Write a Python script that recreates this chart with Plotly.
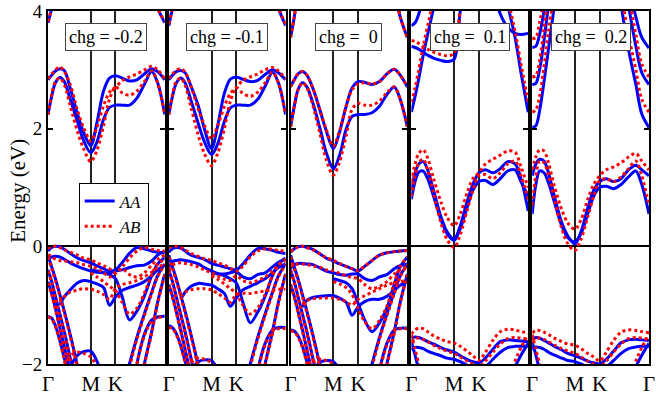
import plotly.graph_objects as go

N = None
# k-path positions (Gamma-M-K-Gamma, units of 2pi/a)
K = [0, 0.05, 0.10, 0.16, 0.22, 0.30, 0.40, 0.48, 0.577, 0.66,
     0.75, 0.83, 0.911, 1.00, 1.10, 1.20, 1.30, 1.40, 1.48, 1.577]
K_M, K_K, K_END = 0.5774, 0.9107, 1.5774
TICK_LABELS = ["Γ", "M", "K", "Γ"]
TITLES = ["chg = -0.2", "chg = -0.1", "chg =\u00a0\u00a00", "chg =\u00a0\u00a00.1", "chg =\u00a0\u00a00.2"]

# ---------- chg = -0.2 ----------
P1_AA = [
    [2.83, 2.91, 2.98, 3.02, 2.99, 2.69, 2.24, 1.94, 1.71, 2.10, 2.64, 2.86, 2.90, 2.86, 2.81, 2.83, 2.93, 3.02, 2.97, 2.83],
    [2.24, 2.55, 2.78, 2.87, 2.80, 2.50, 2.11, 1.80, 1.59, 1.77, 2.16, 2.36, 2.40, 2.40, 2.40, 2.52, 2.75, 2.97, 2.78, 2.24],
    [3.80, 4.05, 4.40, N, N, N, N, N, N, N, N, N, N, N, N, N, N, N, N, N],
    [N, N, N, N, N, N, N, N, N, N, N, N, N, N, N, N, N, 4.40, 4.05, 3.80],
    [-0.08, -0.02, 0.00, -0.01, -0.05, -0.12, -0.20, -0.24, -0.28, -0.33, -0.38, -0.42, -0.40, -0.28, -0.12, -0.02, -0.04, -0.08, -0.10, -0.11],
    [-0.20, -0.18, -0.17, -0.18, -0.22, -0.28, -0.34, -0.38, -0.42, -0.44, -0.45, -0.45, -0.42, -0.40, -0.36, -0.33, -0.32, -0.25, -0.15, -0.08],
    [N, N, N, -1.00, -0.86, -0.74, -0.62, -0.58, -0.60, -0.64, -0.70, -1.00, -0.86, -0.75, -0.70, -0.66, -0.60, -0.50, -0.40, -0.32],
    [N, N, N, N, N, N, N, N, -0.40, -0.42, -0.45, -0.48, -0.55, -0.85, -1.25, -1.10, -0.85, -0.50, -0.30, -0.19],
    [-0.15, -0.35, -0.55, -0.82, -1.10, -1.50, -2.05, -2.60, N, N, N, N, N, N, N, N, N, N, N, N],
    [-0.40, -0.60, -0.85, -1.15, -1.45, -1.90, -2.50, N, N, N, N, N, N, N, N, N, N, N, N, N],
    [-0.60, -0.80, -1.05, -1.38, -1.70, -2.15, N, N, N, N, N, N, N, N, N, N, N, N, N, N],
    [-1.19, -1.22, -1.35, -1.60, -1.90, -2.30, N, N, N, N, N, N, N, N, N, N, N, N, N, N],
    [N, N, N, N, N, N, N, N, N, N, N, N, N, -2.50, -2.00, -1.55, -1.15, -0.78, -0.50, -0.30],
    [N, N, N, N, N, N, N, N, N, N, N, N, N, N, N, -2.60, -2.00, -1.45, -0.95, -0.47],
    [N, N, N, N, N, N, N, N, N, N, N, N, N, N, N, -2.00, -1.50, -1.25, -1.20, -1.19],
    [N, N, N, N, N, -2.05, -1.85, -1.79, -1.78, -1.95, -2.30, N, N, N, N, N, N, N, N, N],
]
P1_AB = [
    [2.85, 2.93, 3.00, 3.05, 2.97, 2.75, 2.30, 2.02, 1.79, 2.02, 2.39, 2.62, 2.71, 2.81, 2.88, 2.93, 3.00, 3.06, 3.00, 2.85],
    [2.24, 2.58, 2.80, 2.86, 2.75, 2.39, 1.94, 1.66, 1.44, 1.63, 2.05, 2.50, 2.71, 2.61, 2.57, 2.64, 2.80, 2.98, 2.78, 2.24],
    [3.82, 4.05, 4.40, N, N, N, N, N, N, N, N, N, N, N, N, N, N, N, N, N],
    [N, N, N, N, N, N, N, N, N, N, N, N, N, N, N, N, N, 4.40, 4.05, 3.82],
    [-0.04, 0.00, 0.00, -0.02, -0.06, -0.10, -0.15, -0.20, -0.23, -0.28, -0.33, -0.38, -0.45, -0.35, -0.20, -0.08, -0.02, -0.05, -0.07, -0.08],
    [-0.14, -0.18, -0.22, -0.24, -0.25, -0.26, -0.28, -0.31, -0.34, -0.38, -0.45, -0.52, -0.46, -0.38, -0.48, -0.52, -0.45, -0.32, -0.22, -0.15],
    [N, N, N, -0.95, -0.85, -0.78, -0.74, -0.72, -0.73, -0.76, -0.82, -0.90, -0.72, -0.65, -0.62, -0.58, -0.52, -0.44, -0.36, -0.30],
    [N, N, N, N, N, N, N, N, -0.45, -0.52, -0.60, -0.68, -0.75, -0.95, -1.15, -1.05, -0.80, -0.48, -0.30, -0.22],
    [-0.18, -0.38, -0.58, -0.85, -1.13, -1.53, -2.08, -2.60, N, N, N, N, N, N, N, N, N, N, N, N],
    [-0.42, -0.62, -0.88, -1.18, -1.48, -1.93, -2.50, N, N, N, N, N, N, N, N, N, N, N, N, N],
    [-0.62, -0.82, -1.07, -1.40, -1.72, -2.18, N, N, N, N, N, N, N, N, N, N, N, N, N, N],
    [-1.20, -1.24, -1.36, -1.62, -1.92, -2.30, N, N, N, N, N, N, N, N, N, N, N, N, N, N],
    [N, N, N, N, N, N, N, N, N, N, N, N, N, -2.55, -2.05, -1.58, -1.18, -0.80, -0.52, -0.31],
    [N, N, N, N, N, N, N, N, N, N, N, N, N, N, N, -2.62, -2.02, -1.48, -0.97, -0.48],
    [N, N, N, N, N, N, N, N, N, N, N, N, N, N, N, -2.00, -1.52, -1.27, -1.21, -1.20],
    [N, N, N, N, -2.00, -1.86, -1.80, -1.82, -1.88, -2.05, -2.30, N, N, N, N, N, N, N, N, N],
]

# ---------- chg = -0.1 ----------
P2_AA = [
    [2.83, 2.91, 2.97, 2.99, 2.95, 2.72, 2.38, 2.00, 1.66, 2.05, 2.60, 2.84, 2.88, 2.84, 2.80, 2.82, 2.92, 3.00, 2.95, 2.83],
    [2.24, 2.55, 2.77, 2.86, 2.78, 2.48, 2.08, 1.78, 1.56, 1.74, 2.12, 2.35, 2.40, 2.40, 2.40, 2.50, 2.72, 2.96, 2.78, 2.24],
    [3.75, 4.05, 4.40, N, N, N, N, N, N, N, N, N, N, N, N, N, N, N, N, N],
    [N, N, N, N, N, N, N, N, N, N, N, N, N, N, N, N, N, 4.40, 4.05, 3.75],
    [-0.10, -0.04, -0.02, -0.03, -0.08, -0.15, -0.19, -0.22, -0.29, -0.32, -0.35, -0.38, -0.40, -0.30, -0.15, -0.04, -0.04, -0.07, -0.10, -0.12],
    [-0.35, -0.26, -0.24, -0.23, -0.24, -0.26, -0.30, -0.36, -0.42, -0.46, -0.47, -0.45, -0.43, -0.52, -0.55, -0.48, -0.45, -0.35, -0.27, -0.22],
    [N, N, N, -0.90, -0.78, -0.68, -0.63, -0.64, -0.66, -0.72, -0.80, -1.02, -0.88, -0.74, -0.68, -0.62, -0.55, -0.45, -0.36, -0.30],
    [N, N, N, N, N, N, N, N, -0.45, -0.47, -0.50, -0.55, -0.62, -0.95, -1.30, -1.12, -0.85, -0.50, -0.30, -0.20],
    [-0.15, -0.35, -0.55, -0.82, -1.10, -1.50, -2.05, -2.60, N, N, N, N, N, N, N, N, N, N, N, N],
    [-0.40, -0.60, -0.85, -1.15, -1.45, -1.90, -2.50, N, N, N, N, N, N, N, N, N, N, N, N, N],
    [-0.65, -0.85, -1.10, -1.42, -1.75, -2.20, N, N, N, N, N, N, N, N, N, N, N, N, N, N],
    [-1.35, -1.38, -1.48, -1.68, -1.95, -2.30, N, N, N, N, N, N, N, N, N, N, N, N, N, N],
    [N, N, N, N, N, N, N, N, N, N, N, N, N, -2.50, -2.00, -1.55, -1.15, -0.78, -0.50, -0.30],
    [N, N, N, N, N, N, N, N, N, N, N, N, N, N, N, -2.60, -2.00, -1.45, -0.95, -0.47],
    [N, N, N, N, N, N, N, N, N, N, N, N, N, N, N, -2.10, -1.65, -1.42, -1.38, -1.38],
    [N, N, N, N, N, -2.10, -1.96, -1.93, -1.94, -2.10, -2.40, N, N, N, N, N, N, N, N, N],
]
P2_AB = [
    [2.85, 2.93, 2.99, 3.02, 2.96, 2.72, 2.32, 2.06, 1.83, 2.05, 2.38, 2.60, 2.70, 2.82, 2.88, 2.93, 3.00, 3.04, 2.98, 2.85],
    [2.24, 2.58, 2.80, 2.86, 2.74, 2.36, 1.88, 1.58, 1.37, 1.58, 2.00, 2.46, 2.70, 2.60, 2.55, 2.62, 2.78, 2.96, 2.78, 2.24],
    [3.78, 4.05, 4.40, N, N, N, N, N, N, N, N, N, N, N, N, N, N, N, N, N],
    [N, N, N, N, N, N, N, N, N, N, N, N, N, N, N, N, N, 4.40, 4.05, 3.78],
    [-0.02, 0.00, 0.00, -0.02, -0.06, -0.12, -0.17, -0.21, -0.24, -0.28, -0.32, -0.37, -0.42, -0.34, -0.18, -0.08, -0.04, -0.05, -0.07, -0.08],
    [-0.40, -0.32, -0.29, -0.28, -0.29, -0.31, -0.35, -0.40, -0.45, -0.50, -0.56, -0.58, -0.50, -0.58, -0.62, -0.58, -0.52, -0.42, -0.32, -0.25],
    [N, N, N, -0.85, -0.78, -0.74, -0.72, -0.72, -0.74, -0.80, -0.88, -0.95, -0.82, -0.80, -0.80, -0.78, -0.76, -0.74, -0.73, -0.73],
    [N, N, N, N, N, N, N, N, -0.50, -0.56, -0.64, -0.72, -0.80, -1.00, -1.15, -1.05, -0.82, -0.50, -0.32, -0.22],
    [-0.18, -0.38, -0.58, -0.85, -1.13, -1.53, -2.08, -2.60, N, N, N, N, N, N, N, N, N, N, N, N],
    [-0.42, -0.62, -0.88, -1.18, -1.48, -1.93, -2.50, N, N, N, N, N, N, N, N, N, N, N, N, N],
    [-0.67, -0.87, -1.12, -1.44, -1.77, -2.22, N, N, N, N, N, N, N, N, N, N, N, N, N, N],
    [-1.38, -1.40, -1.50, -1.70, -1.97, -2.30, N, N, N, N, N, N, N, N, N, N, N, N, N, N],
    [N, N, N, N, N, N, N, N, N, N, N, N, N, -2.55, -2.05, -1.58, -1.18, -0.80, -0.52, -0.31],
    [N, N, N, N, N, N, N, N, N, N, N, N, N, N, N, -2.62, -2.02, -1.48, -0.97, -0.48],
    [N, N, N, N, N, N, N, N, N, N, N, N, N, N, N, -2.12, -1.68, -1.44, -1.40, -1.40],
    [N, N, N, N, -2.15, -1.98, -1.90, -1.92, -1.98, -2.15, -2.40, N, N, N, N, N, N, N, N, N],
]

# ---------- chg = 0 ----------
P3_AA = [
    [2.71, 2.83, 2.93, 2.97, 2.91, 2.69, 2.30, 1.97, 1.66, 1.94, 2.38, 2.69, 2.80, 2.79, 2.75, 2.80, 2.93, 3.01, 2.91, 2.71],
    [2.03, 2.38, 2.66, 2.78, 2.71, 2.44, 1.99, 1.60, 1.32, 1.54, 1.99, 2.21, 2.24, 2.24, 2.27, 2.38, 2.58, 2.71, 2.50, 2.03],
    [3.55, 3.90, 4.40, N, N, N, N, N, N, N, N, N, N, N, N, N, N, N, N, N],
    [N, N, N, N, N, N, N, N, N, N, N, N, N, N, N, N, N, 4.40, 3.90, 3.55],
    [-0.10, -0.04, -0.01, 0.00, -0.02, -0.05, -0.13, -0.20, -0.25, -0.30, -0.34, -0.38, -0.42, -0.34, -0.24, -0.15, -0.11, -0.09, -0.08, -0.07],
    [-0.38, -0.31, -0.29, -0.29, -0.30, -0.31, -0.37, -0.42, -0.45, -0.48, -0.49, -0.47, -0.47, -0.55, -0.58, -0.52, -0.48, -0.38, -0.33, -0.30],
    [N, N, N, -1.03, -0.92, -0.87, -0.85, -0.84, -0.84, -0.88, -0.95, -1.17, -1.03, -0.94, -0.90, -0.90, -0.85, -0.75, -0.66, -0.60],
    [N, N, N, N, N, N, N, N, -0.55, -0.58, -0.62, -0.72, -0.97, -1.25, -1.45, -1.30, -1.05, -0.65, -0.35, -0.18],
    [-0.15, -0.35, -0.55, -0.82, -1.10, -1.50, -2.05, -2.60, N, N, N, N, N, N, N, N, N, N, N, N],
    [-0.40, -0.60, -0.85, -1.15, -1.45, -1.90, -2.50, N, N, N, N, N, N, N, N, N, N, N, N, N],
    [-0.65, -0.85, -1.10, -1.42, -1.75, -2.20, N, N, N, N, N, N, N, N, N, N, N, N, N, N],
    [-1.42, -1.44, -1.52, -1.70, -1.96, -2.30, N, N, N, N, N, N, N, N, N, N, N, N, N, N],
    [N, N, N, N, N, N, N, N, N, N, N, N, N, -2.50, -2.00, -1.55, -1.15, -0.78, -0.50, -0.30],
    [N, N, N, N, N, N, N, N, N, N, N, N, N, N, N, -2.60, -2.00, -1.45, -0.95, -0.47],
    [N, N, N, N, N, N, N, N, N, N, N, N, N, N, N, -2.10, -1.65, -1.42, -1.39, -1.39],
    [N, N, N, N, N, -2.10, -1.97, -1.94, -1.96, -2.10, -2.40, N, N, N, N, N, N, N, N, N],
]
P3_AB = [
    [2.71, 2.83, 2.93, 2.97, 2.91, 2.69, 2.30, 1.99, 1.70, 1.96, 2.38, 2.66, 2.76, 2.78, 2.76, 2.80, 2.93, 3.01, 2.91, 2.71],
    [2.03, 2.38, 2.66, 2.78, 2.70, 2.40, 1.90, 1.48, 1.21, 1.43, 1.88, 2.33, 2.43, 2.40, 2.40, 2.47, 2.61, 2.71, 2.50, 2.03],
    [3.55, 3.90, 4.40, N, N, N, N, N, N, N, N, N, N, N, N, N, N, N, N, N],
    [N, N, N, N, N, N, N, N, N, N, N, N, N, N, N, N, N, 4.40, 3.90, 3.55],
    [-0.09, -0.04, -0.01, 0.00, -0.02, -0.06, -0.13, -0.19, -0.24, -0.29, -0.34, -0.38, -0.41, -0.34, -0.24, -0.15, -0.11, -0.09, -0.08, -0.07],
    [-0.35, -0.31, -0.30, -0.30, -0.31, -0.33, -0.36, -0.40, -0.42, -0.46, -0.50, -0.53, -0.55, -0.65, -0.72, -0.68, -0.60, -0.47, -0.40, -0.35],
    [N, N, N, -0.98, -0.92, -0.89, -0.88, -0.88, -0.88, -0.90, -0.94, -1.00, -0.90, -0.84, -0.78, -0.72, -0.66, -0.62, -0.60, -0.58],
    [N, N, N, N, N, N, N, N, -0.60, -0.64, -0.70, -0.82, -1.05, -1.28, -1.40, -1.26, -1.02, -0.62, -0.34, -0.18],
    [-0.18, -0.38, -0.58, -0.85, -1.13, -1.53, -2.08, -2.60, N, N, N, N, N, N, N, N, N, N, N, N],
    [-0.42, -0.62, -0.88, -1.18, -1.48, -1.93, -2.50, N, N, N, N, N, N, N, N, N, N, N, N, N],
    [-0.67, -0.87, -1.12, -1.44, -1.77, -2.22, N, N, N, N, N, N, N, N, N, N, N, N, N, N],
    [-1.44, -1.46, -1.54, -1.72, -1.98, -2.30, N, N, N, N, N, N, N, N, N, N, N, N, N, N],
    [N, N, N, N, N, N, N, N, N, N, N, N, N, -2.55, -2.05, -1.58, -1.18, -0.80, -0.52, -0.31],
    [N, N, N, N, N, N, N, N, N, N, N, N, N, N, N, -2.62, -2.02, -1.48, -0.97, -0.48],
    [N, N, N, N, N, N, N, N, N, N, N, N, N, N, N, -2.12, -1.68, -1.44, -1.40, -1.40],
    [N, N, N, N, -2.15, -1.98, -1.92, -1.94, -2.00, -2.15, -2.40, N, N, N, N, N, N, N, N, N],
]

# ---------- chg = 0.1 ----------
P4_AA = [
    [0.95, 1.25, 1.40, 1.44, 1.30, 0.95, 0.50, 0.25, 0.12, 0.35, 0.75, 1.05, 1.25, 1.30, 1.25, 1.32, 1.44, 1.40, 1.15, 0.60],
    [0.80, 1.10, 1.26, 1.28, 1.15, 0.85, 0.45, 0.22, 0.10, 0.30, 0.65, 0.95, 1.10, 1.12, 1.05, 1.15, 1.28, 1.30, 1.10, 0.85],
    [2.28, 2.55, 2.85, 3.25, 3.60, 4.05, 4.60, N, N, N, N, N, N, N, N, N, N, N, N, N],
    [3.40, 3.38, 3.35, 3.30, 3.25, 3.20, 3.16, 3.14, 3.18, 4.00, 4.60, N, N, N, N, N, N, N, N, N],
    [3.75, 3.80, 3.95, 4.30, N, N, N, N, N, N, N, N, N, N, N, N, N, N, N, N],
    [N, N, N, N, N, N, N, N, N, N, N, N, N, N, N, 4.60, 4.10, 3.55, 2.95, 2.28],
    [N, N, N, N, N, N, N, N, N, N, N, N, N, N, 4.40, 3.95, 3.72, 3.62, 3.60, 3.62],
    [-1.56, -1.54, -1.55, -1.58, -1.62, -1.66, -1.72, -1.76, -1.80, -1.86, -1.92, -1.96, -1.98, -1.90, -1.75, -1.62, -1.59, -1.60, -1.61, -1.62],
    [-1.76, -1.72, -1.72, -1.74, -1.78, -1.82, -1.86, -1.90, -1.92, -1.96, -2.02, -2.08, -2.10, -2.05, -1.92, -1.80, -1.72, -1.70, -1.70, -1.70],
    [-1.62, -1.85, -2.10, -2.40, N, N, N, N, N, N, N, N, N, N, N, N, N, N, N, N],
    [N, N, N, N, N, N, N, N, N, N, N, N, N, N, N, N, -2.40, -2.05, -1.85, -1.65],
]
P4_AB = [
    [1.10, 1.40, 1.58, 1.64, 1.50, 1.15, 0.75, 0.50, 0.35, 0.55, 0.90, 1.15, 1.25, 1.40, 1.48, 1.55, 1.62, 1.60, 1.35, 1.00],
    [0.85, 1.20, 1.42, 1.48, 1.30, 0.90, 0.40, 0.12, -0.02, 0.20, 0.60, 0.95, 1.20, 1.22, 1.15, 1.25, 1.40, 1.45, 1.20, 0.80],
    [2.45, 2.70, 3.00, 3.40, 3.75, 4.20, N, N, N, N, N, N, N, N, N, N, N, N, N, N],
    [3.50, 3.48, 3.45, 3.40, 3.35, 3.30, 3.26, 3.24, 3.28, 4.05, 4.60, N, N, N, N, N, N, N, N, N],
    [N, N, N, N, N, N, N, N, N, N, N, N, N, N, N, 4.60, 4.20, 3.65, 3.10, 2.45],
    [-1.49, -1.42, -1.39, -1.40, -1.45, -1.52, -1.58, -1.62, -1.64, -1.70, -1.78, -1.86, -1.94, -1.80, -1.60, -1.45, -1.41, -1.42, -1.45, -1.47],
    [-1.62, -1.57, -1.56, -1.58, -1.62, -1.68, -1.74, -1.78, -1.82, -1.88, -1.95, -2.00, -2.05, -1.95, -1.80, -1.66, -1.57, -1.55, -1.56, -1.58],
    [-1.50, -1.75, -2.00, -2.35, N, N, N, N, N, N, N, N, N, N, N, N, N, N, N, N],
    [N, N, N, N, N, N, N, N, N, N, N, N, N, N, N, N, -2.35, -1.95, -1.72, -1.50],
]

# ---------- chg = 0.2 ----------
P5_AA = [
    [1.20, 1.40, 1.48, 1.45, 1.25, 0.85, 0.40, 0.18, 0.04, 0.25, 0.65, 0.95, 1.10, 1.15, 1.10, 1.15, 1.30, 1.38, 1.30, 1.20],
    [0.55, 1.05, 1.28, 1.25, 1.08, 0.75, 0.35, 0.15, 0.08, 0.22, 0.55, 0.85, 1.00, 1.02, 0.98, 1.05, 1.18, 1.28, 1.05, 0.55],
    [2.02, 2.05, 2.30, 2.80, 3.35, 4.10, N, N, N, N, N, N, N, N, N, N, N, N, N, N],
    [2.75, 2.77, 3.00, 3.50, 4.10, N, N, N, N, N, N, N, N, N, N, N, N, N, N, N],
    [3.38, 3.40, 3.60, 4.00, 4.50, N, N, N, N, N, N, N, N, N, N, N, N, N, N, N],
    [N, N, N, N, N, N, N, N, N, N, N, N, N, N, N, 4.10, 3.35, 2.75, 2.25, 2.02],
    [N, N, N, N, N, N, N, N, N, N, N, N, N, N, N, N, 4.10, 3.40, 2.95, 2.75],
    [N, N, N, N, N, N, N, N, N, N, N, N, N, N, N, N, 4.50, 3.90, 3.55, 3.37],
    [-1.58, -1.55, -1.56, -1.60, -1.64, -1.70, -1.76, -1.82, -1.86, -1.90, -1.95, -1.98, -2.00, -1.92, -1.78, -1.64, -1.59, -1.58, -1.59, -1.60],
    [-1.75, -1.71, -1.72, -1.75, -1.80, -1.85, -1.90, -1.94, -1.96, -2.00, -2.05, -2.08, -2.10, -2.05, -1.94, -1.82, -1.74, -1.71, -1.70, -1.70],
    [-1.62, -1.85, -2.10, -2.40, N, N, N, N, N, N, N, N, N, N, N, N, N, N, N, N],
    [N, N, N, N, N, N, N, N, N, N, N, N, N, N, N, N, -2.40, -2.05, -1.85, -1.65],
]
P5_AB = [
    [1.30, 1.52, 1.64, 1.62, 1.42, 1.02, 0.62, 0.40, 0.29, 0.45, 0.80, 1.05, 1.20, 1.30, 1.35, 1.42, 1.52, 1.58, 1.45, 1.30],
    [0.70, 1.20, 1.45, 1.42, 1.20, 0.80, 0.30, 0.05, -0.07, 0.12, 0.50, 0.85, 1.12, 1.15, 1.10, 1.18, 1.32, 1.45, 1.20, 0.70],
    [2.28, 2.32, 2.55, 3.05, 3.65, 4.30, N, N, N, N, N, N, N, N, N, N, N, N, N, N],
    [2.88, 2.90, 3.15, 3.70, 4.30, N, N, N, N, N, N, N, N, N, N, N, N, N, N, N],
    [3.53, 3.55, 3.80, 4.20, N, N, N, N, N, N, N, N, N, N, N, N, N, N, N, N],
    [N, N, N, N, N, N, N, N, N, N, N, N, N, N, N, 4.30, 3.60, 3.00, 2.50, 2.28],
    [N, N, N, N, N, N, N, N, N, N, N, N, N, N, N, N, 4.30, 3.60, 3.10, 2.88],
    [-1.47, -1.43, -1.43, -1.46, -1.50, -1.56, -1.62, -1.66, -1.68, -1.74, -1.82, -1.88, -1.95, -1.80, -1.60, -1.46, -1.42, -1.43, -1.45, -1.47],
    [-1.60, -1.56, -1.56, -1.58, -1.62, -1.68, -1.74, -1.78, -1.82, -1.88, -1.95, -2.00, -2.05, -1.95, -1.80, -1.66, -1.57, -1.55, -1.56, -1.58],
    [-1.50, -1.75, -2.00, -2.35, N, N, N, N, N, N, N, N, N, N, N, N, N, N, N, N],
    [N, N, N, N, N, N, N, N, N, N, N, N, N, N, N, N, -2.35, -1.95, -1.72, -1.50],
]

PANELS = [(P1_AA, P1_AB), (P2_AA, P2_AB), (P3_AA, P3_AB), (P4_AA, P4_AB), (P5_AA, P5_AB)]

# ---------- layout geometry (pixels) ----------
W, H = 656, 397
ML, MR, MT, MB = 48, 1, 10, 29
PW, PH = W - ML - MR, H - MT - MB
PANEL_PX = [(48, 166), (170, 288), (293, 411), (415, 533), (537, 655)]

BLUE, RED = "#0000ff", "#ff0000"
FONT = '"Times New Roman", "Liberation Serif", Tinos, serif'

fig = go.Figure()
layout = dict(
    width=W, height=H, margin=dict(l=ML, r=MR, t=MT, b=MB),
    paper_bgcolor="white", plot_bgcolor="white",
    font=dict(family=FONT, size=17, color="black"),
    showlegend=True,
    legend=dict(x=(79 - ML) / PW, y=(H - MB - 184) / PH, xanchor="left", yanchor="top",
                bgcolor="white", bordercolor="black", borderwidth=1,
                font=dict(family=FONT, size=17), tracegroupgap=0, itemwidth=30),
)
annotations = []
for i, (aa, ab) in enumerate(PANELS):
    n = "" if i == 0 else str(i + 1)
    for j, band in enumerate(aa):
        fig.add_trace(go.Scatter(x=K, y=band, mode="lines", xaxis="x" + n, yaxis="y" + n,
                                 line=dict(color=BLUE, width=3, shape="spline", smoothing=0.9),
                                 name="<i>AA</i>", legendgroup="AA",
                                 showlegend=(i == 0 and j == 0), hoverinfo="skip"))
for i, (aa, ab) in enumerate(PANELS):
    n = "" if i == 0 else str(i + 1)
    for j, band in enumerate(ab):
        fig.add_trace(go.Scatter(x=K, y=band, mode="lines", xaxis="x" + n, yaxis="y" + n,
                                 line=dict(color=RED, width=3, dash="dot", shape="spline", smoothing=0.9),
                                 name="<i>AB</i>", legendgroup="AB",
                                 showlegend=(i == 0 and j == 0), hoverinfo="skip"))

for i in range(5):
    n = "" if i == 0 else str(i + 1)
    x0, x1 = PANEL_PX[i]
    tv = [0, K_M, K_K] + ([K_END] if i == 4 else [])
    layout["xaxis" + n] = dict(
        domain=[(x0 - ML) / PW, (x1 - ML) / PW], range=[0, K_END], anchor="y" + n,
        tickvals=tv, ticktext=TICK_LABELS[:len(tv)], ticks="",
        tickfont=dict(family=FONT, size=21), ticklabeloverflow="allow",
        showgrid=True, gridcolor="#222222", gridwidth=1.5,
        showline=True, linecolor="black", linewidth=2, mirror=True, zeroline=False,
    )
    layout["yaxis" + n] = dict(
        domain=[0, 1], range=[-2, 4], anchor="x" + n,
        tickvals=[-2, 0, 2, 4], ticks="inside", ticklen=5, tickwidth=1.5, tickcolor="black",
        showticklabels=(i == 0), tickfont=dict(family=FONT, size=19), ticklabeloverflow="allow",
        showgrid=False, zeroline=True, zerolinecolor="black", zerolinewidth=2,
        showline=True, linecolor="black", linewidth=2, mirror="allticks",
    )
    annotations.append(dict(
        x=((x0 + x1) / 2 - ML) / PW, y=(H - MB - 36.5) / PH, xref="paper", yref="paper",
        text=TITLES[i], showarrow=False, font=dict(family=FONT, size=18),
        bgcolor="white", bordercolor="#444444", borderwidth=1, borderpad=3,
        xanchor="center", yanchor="middle",
    ))
annotations.append(dict(
    x=(18 - ML) / PW, y=(H - MB - 192) / PH, xref="paper", yref="paper",
    text="Energy (eV)", textangle=-90, showarrow=False, font=dict(family=FONT, size=21),
    xanchor="center", yanchor="middle",
))
layout["annotations"] = annotations
fig.update_layout(**layout)
fig.write_html("out.html")
